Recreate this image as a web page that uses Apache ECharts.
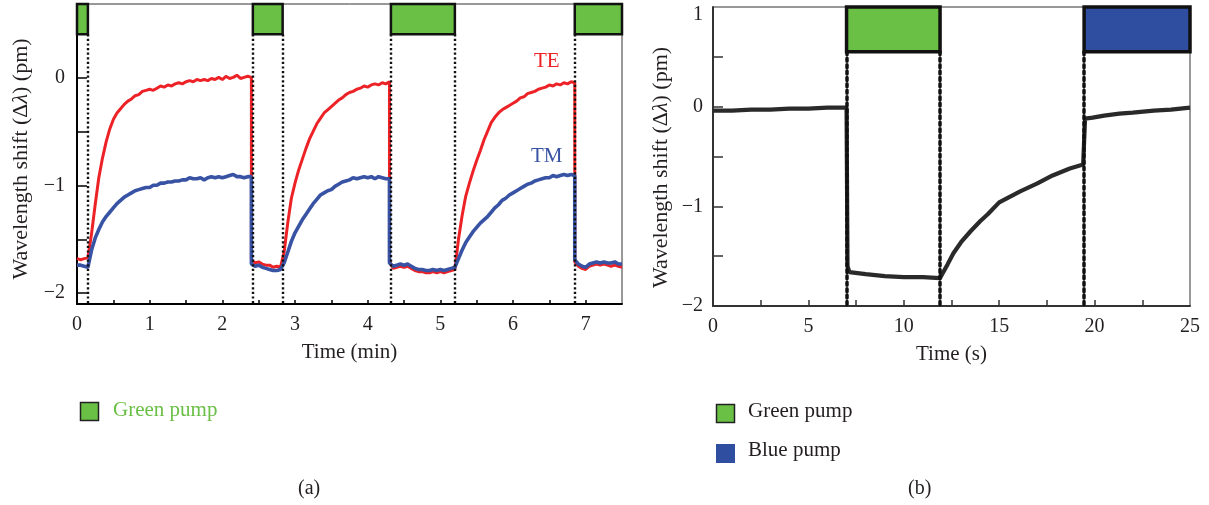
<!DOCTYPE html>
<html>
<head>
<meta charset="utf-8">
<script src="https://cdn.jsdelivr.net/npm/echarts@6/dist/echarts.min.js"></script>
<style>
html,body{margin:0;padding:0;background:#fff;}
#c{width:1209px;height:505px;}
</style>
</head>
<body>
<div id="c"></div>
<script>
// ---------- Panel (a): time in minutes ----------
const timeMin = [
  0,0.05,0.1,0.15,0.2,0.25,0.3,0.35,0.4,0.45,
  0.5,0.55,0.6,0.65,0.7,0.75,0.8,0.85,0.9,0.95,
  1.0,1.05,1.1,1.15,1.2,1.25,1.3,1.35,1.4,1.45,
  1.5,1.55,1.6,1.65,1.7,1.75,1.8,1.85,1.9,1.95,
  2.0,2.05,2.1,2.15,2.2,2.25,2.3,2.35,2.4,
  2.4,2.45,2.5,2.55,2.6,2.65,2.7,2.75,2.8,2.85,
  2.9,2.95,3.0,3.05,3.1,3.15,3.2,3.25,3.3,3.35,
  3.4,3.45,3.5,3.55,3.6,3.65,3.7,3.75,3.8,3.85,
  3.9,3.95,4.0,4.05,4.1,4.15,4.2,4.25,4.3,
  4.3,4.35,4.4,4.45,4.5,4.55,4.6,4.65,4.7,4.75,
  4.8,4.85,4.9,4.95,5.0,5.05,5.1,5.15,5.2,5.25,
  5.3,5.35,5.4,5.45,5.5,5.55,5.6,5.65,5.7,5.75,
  5.8,5.85,5.9,5.95,6.0,6.05,6.1,6.15,6.2,6.25,
  6.3,6.35,6.4,6.45,6.5,6.55,6.6,6.65,6.7,6.75,
  6.8,6.85,
  6.85,6.9,6.95,7.0,7.05,7.1,7.15,7.2,7.25,7.3,7.35,7.4,7.45,7.5
];
const teShift = [
  -1.68,-1.69,-1.68,-1.67,-1.45,-1.18,-0.93,-0.75,-0.6,-0.48,
  -0.39,-0.33,-0.29,-0.25,-0.22,-0.2,-0.17,-0.16,-0.13,-0.12,
  -0.11,-0.12,-0.1,-0.08,-0.09,-0.07,-0.08,-0.06,-0.05,-0.06,
  -0.04,-0.03,-0.04,-0.02,-0.03,-0.02,-0.03,-0.01,-0.02,0.0,
  -0.02,0.01,-0.01,0.0,0.02,-0.01,0.0,0.01,0.0,
  -1.69,-1.72,-1.71,-1.73,-1.74,-1.74,-1.76,-1.75,-1.76,-1.62,
  -1.35,-1.12,-0.98,-0.86,-0.76,-0.66,-0.57,-0.5,-0.43,-0.38,
  -0.33,-0.3,-0.27,-0.24,-0.21,-0.19,-0.16,-0.14,-0.13,-0.11,
  -0.1,-0.08,-0.09,-0.07,-0.06,-0.07,-0.05,-0.06,-0.04,
  -1.7,-1.77,-1.76,-1.75,-1.76,-1.75,-1.77,-1.79,-1.8,-1.8,
  -1.81,-1.81,-1.8,-1.81,-1.8,-1.81,-1.8,-1.79,-1.78,-1.5,
  -1.28,-1.1,-0.98,-0.87,-0.77,-0.68,-0.58,-0.5,-0.42,-0.37,
  -0.33,-0.3,-0.28,-0.26,-0.24,-0.22,-0.19,-0.18,-0.15,-0.14,
  -0.13,-0.11,-0.1,-0.09,-0.07,-0.08,-0.06,-0.07,-0.05,-0.06,
  -0.04,-0.05,
  -1.71,-1.75,-1.77,-1.78,-1.75,-1.74,-1.73,-1.74,-1.73,-1.74,-1.75,-1.74,-1.75,-1.76
];
const tmShift = [
  -1.74,-1.74,-1.75,-1.76,-1.6,-1.49,-1.41,-1.34,-1.29,-1.25,
  -1.21,-1.17,-1.14,-1.11,-1.09,-1.07,-1.05,-1.04,-1.03,-1.02,
  -1.02,-1.0,-1.0,-0.98,-0.98,-0.97,-0.97,-0.96,-0.96,-0.95,
  -0.95,-0.93,-0.94,-0.94,-0.93,-0.95,-0.93,-0.92,-0.93,-0.92,
  -0.93,-0.92,-0.91,-0.9,-0.92,-0.92,-0.93,-0.92,-0.92,
  -1.73,-1.75,-1.74,-1.76,-1.77,-1.78,-1.79,-1.79,-1.78,-1.72,
  -1.62,-1.52,-1.44,-1.38,-1.32,-1.27,-1.22,-1.17,-1.13,-1.09,
  -1.07,-1.05,-1.04,-1.01,-0.99,-0.97,-0.96,-0.95,-0.93,-0.94,
  -0.93,-0.92,-0.93,-0.92,-0.94,-0.92,-0.93,-0.94,-0.94,
  -1.72,-1.75,-1.74,-1.73,-1.74,-1.73,-1.75,-1.77,-1.78,-1.78,
  -1.79,-1.79,-1.78,-1.79,-1.78,-1.79,-1.78,-1.77,-1.76,-1.68,
  -1.6,-1.53,-1.48,-1.43,-1.39,-1.35,-1.32,-1.29,-1.25,-1.21,
  -1.18,-1.14,-1.12,-1.09,-1.07,-1.05,-1.03,-1.01,-0.99,-0.98,
  -0.96,-0.95,-0.94,-0.93,-0.93,-0.91,-0.92,-0.91,-0.9,-0.91,
  -0.9,-0.91,
  -1.69,-1.73,-1.75,-1.76,-1.73,-1.72,-1.71,-1.72,-1.71,-1.72,-1.72,-1.71,-1.73,-1.73
];
// green pump on-intervals (min)
const greenPumpA = [[0, 0.15], [2.42, 2.83], [4.32, 5.2], [6.85, 7.5]];
const pumpEdgesA = [0.15, 2.42, 2.83, 4.32, 5.2, 6.85];
const xTicksA = [0,1,2,3,4,5,6,7];
const yTicksA = [-2,-1,0];

// ---------- Panel (b): time in seconds ----------
const timeSec = [0,1,2,3,4,5,6,7.0,7.05,7.15,8,9,10,11,11.9,12.3,12.6,13.0,13.5,14.0,14.4,15.0,15.5,16.1,17.0,17.8,18.7,19.4,19.5,19.9,20.5,21.3,22,23.1,24,25];
const shiftB  = [-0.04,-0.04,-0.03,-0.03,-0.02,-0.02,-0.01,-0.01,-1.6,-1.66,-1.68,-1.7,-1.71,-1.71,-1.72,-1.58,-1.47,-1.36,-1.25,-1.15,-1.08,-0.96,-0.91,-0.85,-0.77,-0.69,-0.62,-0.58,-0.12,-0.11,-0.09,-0.07,-0.06,-0.04,-0.03,-0.01];
const greenPumpB = [[7.0, 11.9]];
const bluePumpB = [[19.45, 25]];
const pumpEdgesB = [7.0, 11.9, 19.45];
const xTicksB = [0,5,10,15,20,25];
const yTicksB = [-2,-1,0,1];

const FONT = 'Liberation Serif';
const TXT = '#231f20';
const GREEN = '#6abf45';
const BLUE = '#2f4ea0';
const RED = '#ec2227';
const TMBLUE = '#3953a4';

function minus(v){ return v < 0 ? '\u2212' + Math.abs(v) : String(v); }
function zip(a, b){ return a.map((t, i) => [t, b[i]]); }

const chart = echarts.init(document.getElementById('c'), null, {renderer: 'canvas'});

const yName = 'Wavelength shift (\u0394{i|\u03bb}) (pm)';
const nameStyleA = {fontFamily: FONT, fontSize: 22, color: TXT, padding: [0, 10, 0, 0], rich: {i: {fontFamily: FONT, fontSize: 22, fontStyle: 'italic', color: TXT}}};
const nameStyleB = {fontFamily: FONT, fontSize: 22, color: TXT, padding: [0, 22, 0, 0], rich: {i: {fontFamily: FONT, fontSize: 22, fontStyle: 'italic', color: TXT}}};
const labelStyle = {fontFamily: FONT, fontSize: 20, color: TXT};
const xNameStyle = {fontFamily: FONT, fontSize: 21, color: TXT};

const option = {
  animation: false,
  backgroundColor: '#fff',
  grid: [
    {left: 77, top: 4, width: 545, height: 300, show: true, borderColor: '#333', borderWidth: 1, outerBoundsMode: 'none', containLabel: false},
    {left: 713, top: 7, width: 477, height: 299, show: true, borderColor: '#333', borderWidth: 1, outerBoundsMode: 'none', containLabel: false}
  ],
  xAxis: [
    {type: 'value', gridIndex: 0, min: 0, max: 7.5, interval: 0.5,
     name: 'Time (min)', nameLocation: 'middle', nameGap: 38, nameTextStyle: xNameStyle,
     axisLine: {show: true, onZero: false, lineStyle: {color: '#000', width: 2}},
     axisTick: {show: true, inside: true, length: 4, lineStyle: {color: '#000', width: 1.5},
                customValues: [0,0.5,1,1.5,2,2.5,3,3.5,4,4.5,5,5.5,6,6.5,7]},
     axisLabel: {show: true, margin: 11, customValues: xTicksA, formatter: minus, ...labelStyle},
     splitLine: {show: false}},
    {type: 'value', gridIndex: 1, min: 0, max: 25, interval: 2.5,
     name: 'Time (s)', nameLocation: 'middle', nameGap: 38, nameTextStyle: xNameStyle,
     axisLine: {show: true, onZero: false, lineStyle: {color: '#333', width: 2}},
     axisTick: {show: true, inside: true, length: 6, lineStyle: {color: '#333', width: 1.5},
                customValues: [0,2.5,5,7.5,10,12.5,15,17.5,20,22.5]},
     axisLabel: {show: true, margin: 11, customValues: xTicksB, formatter: minus, ...labelStyle},
     splitLine: {show: false}}
  ],
  yAxis: [
    {type: 'value', gridIndex: 0, min: -2.1, max: 0.68,
     name: yName, nameLocation: 'middle', nameGap: 45, nameTextStyle: nameStyleA,
     axisLine: {show: true, onZero: false, lineStyle: {color: '#000', width: 2}},
     axisTick: {show: true, inside: true, length: 10, lineStyle: {color: '#000', width: 1.5},
                customValues: [-2,-1.5,-1,-0.5,0]},
     axisLabel: {show: true, margin: 12, customValues: yTicksA, formatter: minus, ...labelStyle},
     splitLine: {show: false}},
    {type: 'value', gridIndex: 1, min: -2, max: 1,
     name: yName, nameLocation: 'middle', nameGap: 41, nameTextStyle: nameStyleB,
     axisLine: {show: true, onZero: false, lineStyle: {color: '#333', width: 2}},
     axisTick: {show: true, inside: true, length: 10, lineStyle: {color: '#333', width: 1.5},
                customValues: [-2,-1.5,-1,-0.5,0,0.5]},
     axisLabel: {show: true, margin: 10, customValues: yTicksB,
                 formatter: v => v === 1 ? '{top|1}' : minus(v),
                 rich: {top: {fontFamily: FONT, fontSize: 20, color: TXT, padding: [16, 0, 0, 0]}},
                 ...labelStyle},
     splitLine: {show: false}}
  ],
  series: [
    {type: 'line', name: 'pumpA', xAxisIndex: 0, yAxisIndex: 0, data: [], z: 1, silent: true,
     markArea: {silent: true,
       itemStyle: {color: GREEN, borderColor: '#111', borderWidth: 2.5},
       label: {show: false},
       data: greenPumpA.map(p => [{coord: [p[0], 0.4]}, {coord: [p[1], 0.68]}])},
     markLine: {silent: true, symbol: ['none', 'none'], label: {show: false},
       lineStyle: {color: '#111', width: 2.4, type: [2.2, 2.4]},
       data: pumpEdgesA.map(x => [{coord: [x, 0.4]}, {coord: [x, -2.1]}])}
    },
    {type: 'line', name: 'TE', xAxisIndex: 0, yAxisIndex: 0, data: zip(timeMin, teShift),
     showSymbol: false, symbol: 'none', z: 3,
     lineStyle: {color: RED, width: 3}},
    {type: 'line', name: 'TM', xAxisIndex: 0, yAxisIndex: 0, data: zip(timeMin, tmShift),
     showSymbol: false, symbol: 'none', z: 4,
     lineStyle: {color: TMBLUE, width: 3.6}},
    {type: 'line', name: 'pumpB', xAxisIndex: 1, yAxisIndex: 1, data: [], z: 1, silent: true,
     markArea: {silent: true,
       label: {show: false},
       data: greenPumpB.map(p => [{coord: [p[0], 0.55], itemStyle: {color: GREEN, borderColor: '#111', borderWidth: 3.5}}, {coord: [p[1], 1]}])
         .concat(bluePumpB.map(p => [{coord: [p[0], 0.55], itemStyle: {color: BLUE, borderColor: '#111', borderWidth: 3.5}}, {coord: [p[1], 1]}]))},
     markLine: {silent: true, symbol: ['none', 'none'], label: {show: false},
       lineStyle: {color: '#111', width: 3.5, type: [3, 3.4], cap: 'round'},
       data: pumpEdgesB.map(x => [{coord: [x, 0.55]}, {coord: [x, -2]}])}
    },
    {type: 'line', name: 'shift', xAxisIndex: 1, yAxisIndex: 1, data: zip(timeSec, shiftB),
     showSymbol: false, symbol: 'none', z: 3,
     lineStyle: {color: '#2a2a2a', width: 4.2}}
  ],
  graphic: [
    {type: 'text', left: 534, top: 51, style: {text: 'TE', fontFamily: FONT, fontSize: 21, fill: RED}},
    {type: 'text', left: 531, top: 146, style: {text: 'TM', fontFamily: FONT, fontSize: 21, fill: TMBLUE}},
    {type: 'rect', shape: {x: 80.5, y: 402.5, width: 18, height: 18}, style: {fill: GREEN, stroke: '#222', lineWidth: 1.5}},
    {type: 'text', left: 113, top: 400, style: {text: 'Green pump', fontFamily: FONT, fontSize: 21, fill: GREEN}},
    {type: 'rect', shape: {x: 716.5, y: 404.5, width: 18, height: 18}, style: {fill: GREEN, stroke: '#222', lineWidth: 1.5}},
    {type: 'text', left: 748, top: 401, style: {text: 'Green pump', fontFamily: FONT, fontSize: 21, fill: TXT}},
    {type: 'rect', shape: {x: 716, y: 444, width: 19, height: 19}, style: {fill: BLUE}},
    {type: 'text', left: 748, top: 440, style: {text: 'Blue pump', fontFamily: FONT, fontSize: 21, fill: TXT}},
    {type: 'text', left: 298, top: 479, style: {text: '(a)', fontFamily: FONT, fontSize: 20, fill: TXT}},
    {type: 'text', left: 908, top: 479, style: {text: '(b)', fontFamily: FONT, fontSize: 20, fill: TXT}}
  ]
};
chart.setOption(option);
</script>
</body>
</html>
